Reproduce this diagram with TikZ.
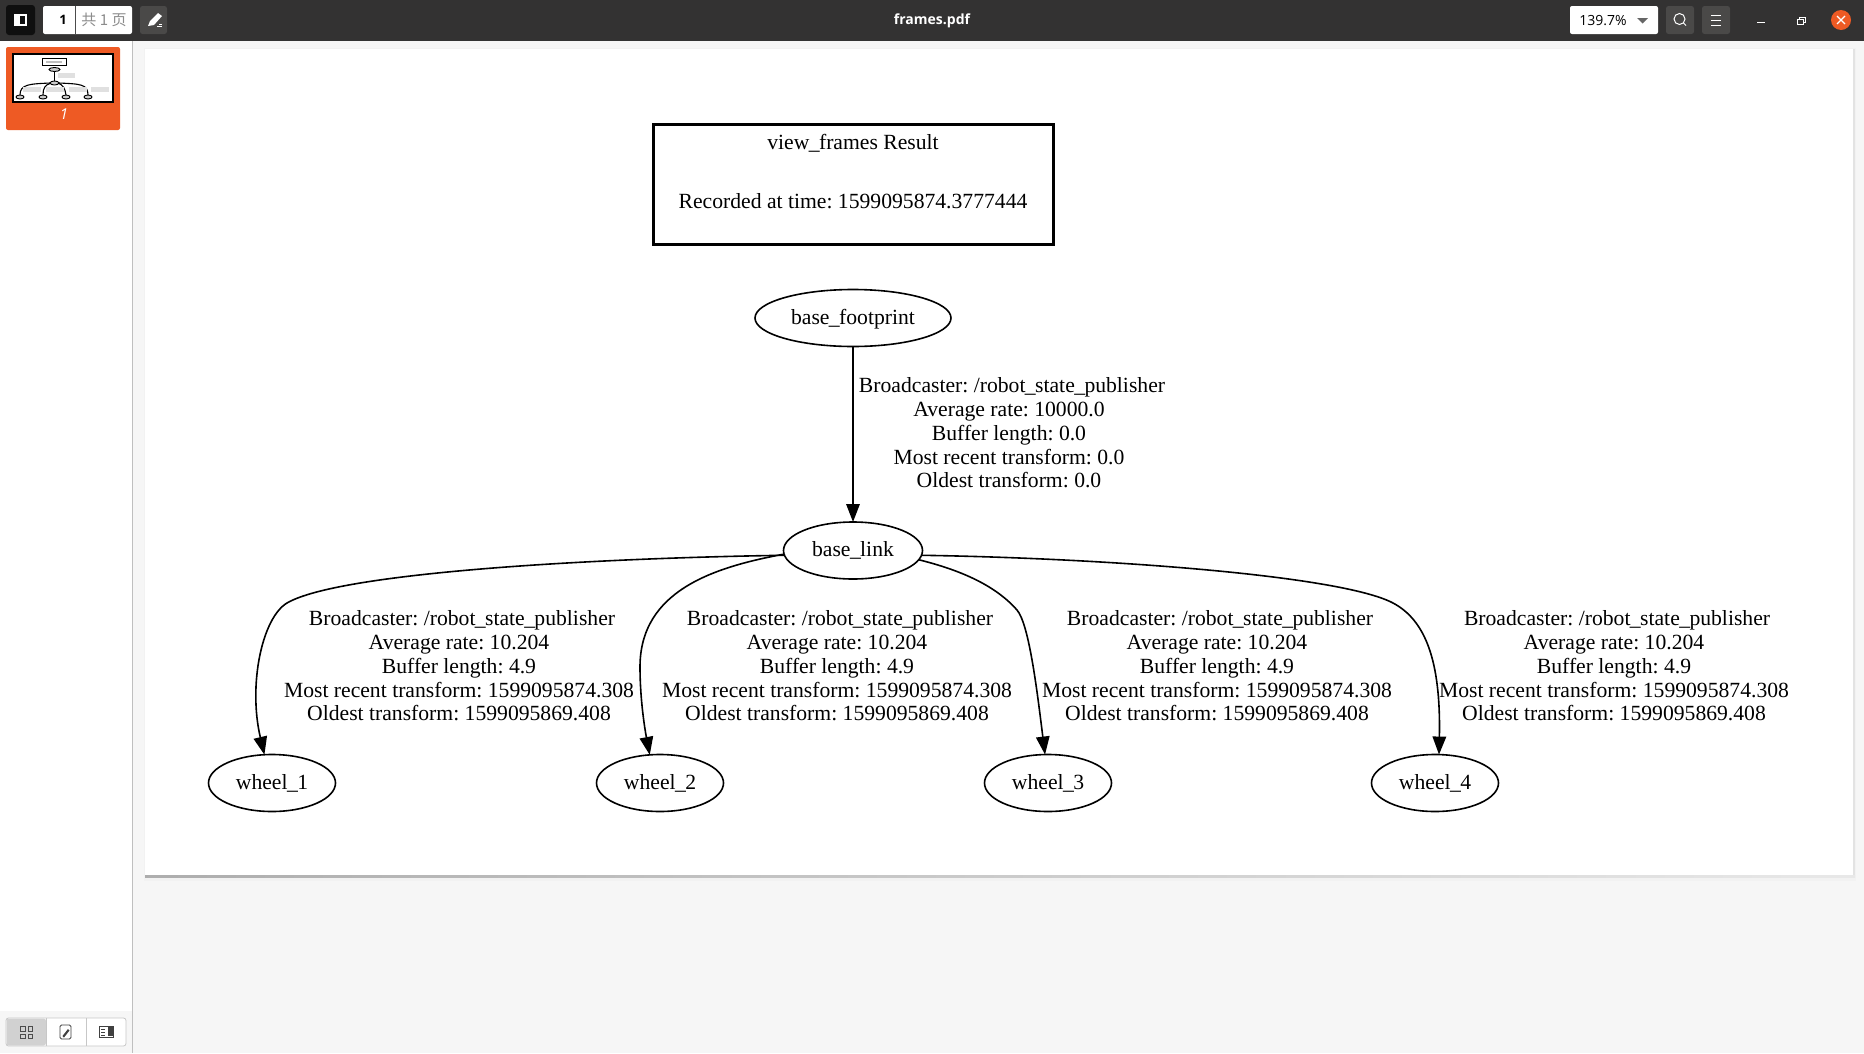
\documentclass[tikz,border=0pt]{standalone}
\usepackage{fontspec}
\setmainfont{Liberation Serif}
\newfontfamily\uifont{Open Sans}
\newfontfamily\cjkf{Noto Sans CJK SC}
\usetikzlibrary{arrows.meta,shapes.geometric}
\definecolor{barc}{HTML}{333232}
\definecolor{bgc}{HTML}{F6F6F6}
\definecolor{orc}{HTML}{EE5A24}
\definecolor{btnc}{HTML}{4A4948}
\tikzset{
 x=1pt,y=-1pt,
 gv/.style={font=\frenchspacing\fontsize{21.65}{23.7}\selectfont},
 oval/.style={draw=black,line width=1.6pt,ellipse,inner sep=0pt,outer sep=0pt,gv,text height=17pt,text depth=5pt},
 edgeln/.style={draw=black,line width=1.6pt,-{Triangle[length=18pt,width=13.5pt]}},
 lab/.style={gv,align=center,inner sep=0pt},
 uitxt/.style={font=\uifont\fontsize{13.5}{13.5}\selectfont,inner sep=0pt},
 btn/.style={fill=btnc,rounded corners=2.5pt,draw=none},
}
\newcommand{\usc}{\kern-0.6pt\_\kern-0.6pt}
\newcommand{\labtext}[4]{\hspace*{6pt}Broadcaster: /robot\usc state\usc publisher\\Average rate: #1\\Buffer length: #2\\Most recent transform: #3\\Oldest transform: #4}
\begin{document}
\begin{tikzpicture}
\useasboundingbox (0,0) rectangle (1864,1053);
\fill[bgc] (0,0) rectangle (1864,1053);
\fill[white] (0,40) rectangle (132,1053);
\fill[bgc] (0,1011) rectangle (132,1053);
\draw[black!25,line width=1pt] (132.5,40) -- (132.5,1053);
% page
\fill[black!5] (144,48) rectangle (1856,881);
\fill[black!11] (1853,49) rectangle (1855,877);
\shade[left color=black!32,right color=black!9] (145,875) rectangle (1855,877.5);
\fill[white] (145,49) rectangle (1853,875);
% top bar
\fill[barc] (0,0) rectangle (1864,41);
\fill[black!70!barc,rounded corners=3pt] (6,5) rectangle (35,35);
\draw[white,line width=1.5pt] (15,15) rectangle (26,25);
\fill[white] (15,15) rectangle (20,25);
\fill[white,rounded corners=2pt] (43,6) rectangle (132,34);
\draw[black!70,line width=.6pt] (75.5,6) -- (75.5,34);
\node[uitxt,font=\uifont\bfseries\fontsize{13}{13}\selectfont] (pg) at (63,20) {1};
\node[uitxt,text=black!45] (pt) at (104,20) {\cjkf\fontsize{15}{15}\selectfont 共 1 页};
\fill[btn] (140,6) rectangle (167,34);
\fill[white] (148,26) -- (150,21) -- (158,13) -- (162,16) -- (154,25) -- cycle;
\draw[white,line width=.8pt] (157,26) -- (162,26) (159,24) -- (162,24);
\node[uitxt,text=white,font=\uifont\bfseries\fontsize{14}{14}\selectfont] (ttl) at (932,21) {frames.pdf};
\fill[white,rounded corners=2pt] (1570,6) rectangle (1658,34);
\node[uitxt,font=\uifont\fontsize{14}{14}\selectfont] (zm) at (1603,20.5) {139.7\%};
\fill[black!60] (1637,18) -- (1648,18) -- (1642.5,23.5) -- cycle;
\fill[btn] (1666,6) rectangle (1694,34);
\draw[white,line width=1pt] (1679.5,19) circle (5.5) (1683.5,23) -- (1686,25.5);
\fill[btn] (1702,6) rectangle (1730,34);
\draw[white,line width=1pt] (1711,15) -- (1721,15) (1711,20) -- (1721,20) (1711,25) -- (1721,25);
\draw[white,line width=1pt] (1757,22) -- (1765,22);
\draw[white,line width=1pt] (1797,19) rectangle (1803,24);
\draw[white,line width=.7pt] (1799,18.5) -- (1799,17) -- (1805,17) -- (1805,22) -- (1803.5,22);
\fill[orc] (1841,20) circle (10);
\draw[white,line width=1.3pt] (1837,16) -- (1845,24) (1845,16) -- (1837,24);
% thumbnail
\fill[orc,rounded corners=2pt] (6,47) rectangle (120,130);
\fill[white,draw=black,line width=1.2pt] (13,54) rectangle (113,102);
\draw[black,line width=.9pt] (42.5,58.5) rectangle (66.5,65.5);
\fill[black!25] (46,61) rectangle (62,62.5);
\draw[black,line width=.9pt,fill=black!20] (54.5,69.5) ellipse (5.5 and 2);
\draw[black,line width=1.1pt] (54.5,71) -- (54.5,81);
\draw[black,line width=.9pt,fill=black!20] (54.5,83) ellipse (4.5 and 2);
\draw[black,line width=1.1pt] (50,83) .. controls (30,84) and (20,84) .. (20,95);
\draw[black,line width=1.1pt] (51,83) .. controls (45,85) and (43,88) .. (43,95);
\draw[black,line width=1.1pt] (58,83) .. controls (63,85) and (65,88) .. (66,95);
\draw[black,line width=1.1pt] (59,83) .. controls (80,84) and (88,84) .. (88,95);
\foreach \cx in {20,43,66,88} \draw[black,line width=.9pt,fill=black!20] (\cx,97) ellipse (4 and 2);
\foreach \cx in {32,55,78,100} \fill[black!12] (\cx-9,87) rectangle (\cx+9,92);
\fill[black!12] (58,73) rectangle (75,78);
\node[uitxt,text=white,font=\uifont\itshape\fontsize{15}{15}\selectfont] (tn) at (64,114) {1};
% bottom buttons
\fill[white,draw=black!22,line width=.8pt,rounded corners=2.5pt] (6,1018) rectangle (126,1046);
\fill[black!18,rounded corners=2.5pt] (6.5,1018.5) rectangle (46,1045.5);
\draw[black!22,line width=.8pt] (46.5,1018) -- (46.5,1046) (86.5,1018) -- (86.5,1046);
\foreach \bx/\by in {20.5/1026.5,28/1026.5,20.5/1034,28/1034} \draw[black!70,line width=.9pt] (\bx,\by) rectangle +(4.5,4.5);
\draw[black!75,line width=.9pt,rounded corners=1.5pt] (60,1025) rectangle (71,1039);
\fill[black!75] (62.5,1036) -- (68,1029) -- (69.5,1030.5) -- (64,1037.5) -- cycle;
\draw[black!75,line width=.9pt] (99,1026) rectangle (113,1037);
\fill[black!75] (108,1025.5) rectangle (113,1036);
\draw[black!75,line width=.7pt] (101,1029) -- (105,1029) (101,1032) -- (105,1032) (101,1035) -- (105,1035);
% diagram
\node[draw=black,line width=3pt,minimum width=400pt,minimum height=120pt,inner sep=0pt] (res) at (853,184) {};
\node[lab] (restxt1) at (853,143) {view\usc frames Result};
\node[lab] (restxt2) at (853,201) {Recorded at time: 1599095874.3777444};
\node[oval,minimum width=196pt,minimum height=57pt] (bf) at (853,318) {base\usc footprint};
\node[oval,minimum width=139pt,minimum height=57pt] (bl) at (853,550.5) {base\usc link};
\node[oval,minimum width=127pt,minimum height=57pt] (w1) at (272,783) {wheel\usc 1};
\node[oval,minimum width=127pt,minimum height=57pt] (w2) at (660,783) {wheel\usc 2};
\node[oval,minimum width=127pt,minimum height=57pt] (w3) at (1048,783) {wheel\usc 3};
\node[oval,minimum width=127pt,minimum height=57pt] (w4) at (1435,783) {wheel\usc 4};
\draw[edgeln] (bf) -- (bl);
\draw[edgeln] (bl.184) .. controls (600,558) and (340,572) .. (287,603) .. controls (262,618) and (248,685) .. (w1.105);
\draw[edgeln] (bl.183) .. controls (715,567) and (640,590) .. (640,667) .. controls (640,700) and (645,730) .. (w2.110);
\draw[edgeln] (bl.352) .. controls (960,570) and (995,585) .. (1017,610) .. controls (1029,624) and (1037,690) .. (w3.96);
\draw[edgeln] (bl.356) .. controls (1100,558) and (1340,575) .. (1393,603) .. controls (1425,620) and (1441,660) .. (w4.82);
\node[lab] (l0) at (1009,433) {\labtext{10000.0}{0.0}{0.0}{0.0}};
\node[lab] (l1) at (459,666) {\labtext{10.204}{4.9}{1599095874.308}{1599095869.408}};
\node[lab] (l2) at (837,666) {\labtext{10.204}{4.9}{1599095874.308}{1599095869.408}};
\node[lab] (l3) at (1217,666) {\labtext{10.204}{4.9}{1599095874.308}{1599095869.408}};
\node[lab] (l4) at (1614,666) {\labtext{10.204}{4.9}{1599095874.308}{1599095869.408}};
\end{tikzpicture}
\end{document}
